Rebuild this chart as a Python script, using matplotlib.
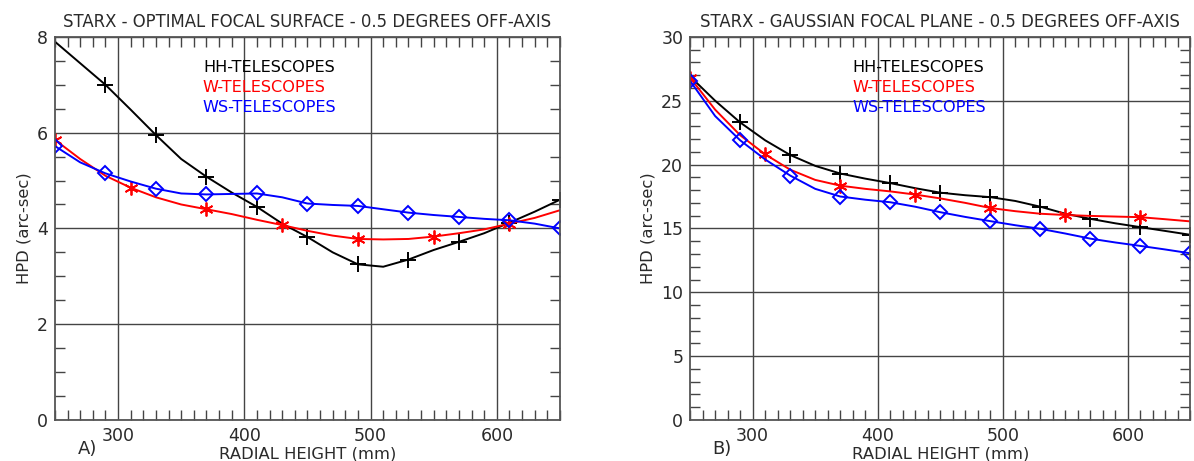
import numpy as np
import matplotlib
matplotlib.use('Agg')
import matplotlib.pyplot as plt
from matplotlib.ticker import MultipleLocator

# radial height (mm), sampled every 20 mm
radial = [250, 270, 290, 310, 330, 350, 370, 390, 410, 430, 450,
          470, 490, 510, 530, 550, 570, 590, 610, 630, 650]

# A) optimal focal surface
hh_opt = [7.9, 7.45, 7.0, 6.48, 5.95, 5.45, 5.08, 4.75, 4.45, 4.1, 3.82,
          3.5, 3.25, 3.2, 3.35, 3.55, 3.72, 3.9, 4.12, 4.35, 4.6]
w_opt = [5.85, 5.45, 5.1, 4.85, 4.65, 4.5, 4.4, 4.3, 4.18, 4.07, 3.95,
         3.85, 3.78, 3.77, 3.78, 3.83, 3.9, 3.98, 4.1, 4.22, 4.38]
ws_opt = [5.72, 5.38, 5.15, 4.98, 4.83, 4.73, 4.71, 4.72, 4.73, 4.65, 4.52,
          4.49, 4.47, 4.4, 4.33, 4.28, 4.24, 4.2, 4.17, 4.1, 4.0]

# B) gaussian focal plane
hh_gau = [26.9, 25.0, 23.3, 21.9, 20.75, 19.9, 19.3, 18.9, 18.55, 18.15, 17.8,
          17.6, 17.45, 17.15, 16.7, 16.15, 15.75, 15.4, 15.1, 14.8, 14.5]
w_gau = [26.8, 24.3, 22.3, 20.8, 19.6, 18.8, 18.35, 18.1, 17.9, 17.65, 17.35,
         17.0, 16.6, 16.35, 16.15, 16.05, 15.98, 15.93, 15.88, 15.72, 15.55]
ws_gau = [26.55, 23.8, 21.9, 20.4, 19.14, 18.1, 17.5, 17.25, 17.05, 16.7, 16.27,
          15.9, 15.57, 15.25, 14.97, 14.6, 14.2, 13.9, 13.63, 13.35, 13.05]

labels = ["HH-TELESCOPES", "W-TELESCOPES", "WS-TELESCOPES"]
colors = ["black", "red", "blue"]
text_col = "#2a2a2a"

fig = plt.figure(figsize=(11.94, 4.61), dpi=100)
ax1 = fig.add_axes([0.046, 0.089, 0.423, 0.831])
ax2 = fig.add_axes([0.578, 0.089, 0.419, 0.831])


def draw(ax, series, ymax, ymajor, yminor, title, tag, legend_x):
    hh, w, ws = series
    ax.plot(radial, hh, color="black", lw=1.4, marker="+", ms=11, mew=1.4,
            markevery=list(range(2, 21, 2)))
    ax.plot(radial, w, color="red", lw=1.4, marker=(6, 2, 0), ms=10, mew=1.3,
            markevery=list(range(0, 21, 3)))
    ax.plot(radial, ws, color="blue", lw=1.4, marker="D", ms=7, mew=1.4,
            mfc="none", markevery=list(range(0, 21, 2)))

    ax.set_xlim(250, 650)
    ax.set_ylim(0, ymax)
    ax.xaxis.set_major_locator(MultipleLocator(100))
    ax.xaxis.set_minor_locator(MultipleLocator(10))
    ax.yaxis.set_major_locator(MultipleLocator(ymajor))
    ax.yaxis.set_minor_locator(MultipleLocator(yminor))
    ax.tick_params(which="both", direction="in", top=True, right=True,
                   colors="#444444", labelcolor=text_col, labelsize=12.5)
    ax.tick_params(which="major", length=0, pad=5)
    ax.tick_params(which="minor", length=7, width=1)
    ax.grid(True, which="major", color="#444444", lw=1)
    for s in ax.spines.values():
        s.set_color("#555555")
        s.set_linewidth(1.3)

    ax.set_xlabel("RADIAL HEIGHT (mm)", fontsize=11.8, color=text_col, labelpad=1)
    ax.set_ylabel("HPD (arc-sec)", fontsize=11.8, color=text_col, labelpad=4)
    ax.set_title(title, fontsize=11.9, color=text_col, pad=7)
    ax.text(0.045, -0.075, tag, transform=ax.transAxes, fontsize=13,
            color=text_col, va="center")

    for i, (lab, c) in enumerate(zip(labels, colors)):
        ax.text(legend_x, 0.92 - i * 0.052, lab, transform=ax.transAxes,
                color=c, fontsize=11.6, va="center")


draw(ax1, (hh_opt, w_opt, ws_opt), 8, 2, 0.5,
     "STARX - OPTIMAL FOCAL SURFACE - 0.5 DEGREES OFF-AXIS", "A)", 0.293)
draw(ax2, (hh_gau, w_gau, ws_gau), 30, 5, 1,
     "STARX - GAUSSIAN FOCAL PLANE - 0.5 DEGREES OFF-AXIS", "B)", 0.324)

fig.savefig("out.png", dpi=100)
plt.close(fig)
